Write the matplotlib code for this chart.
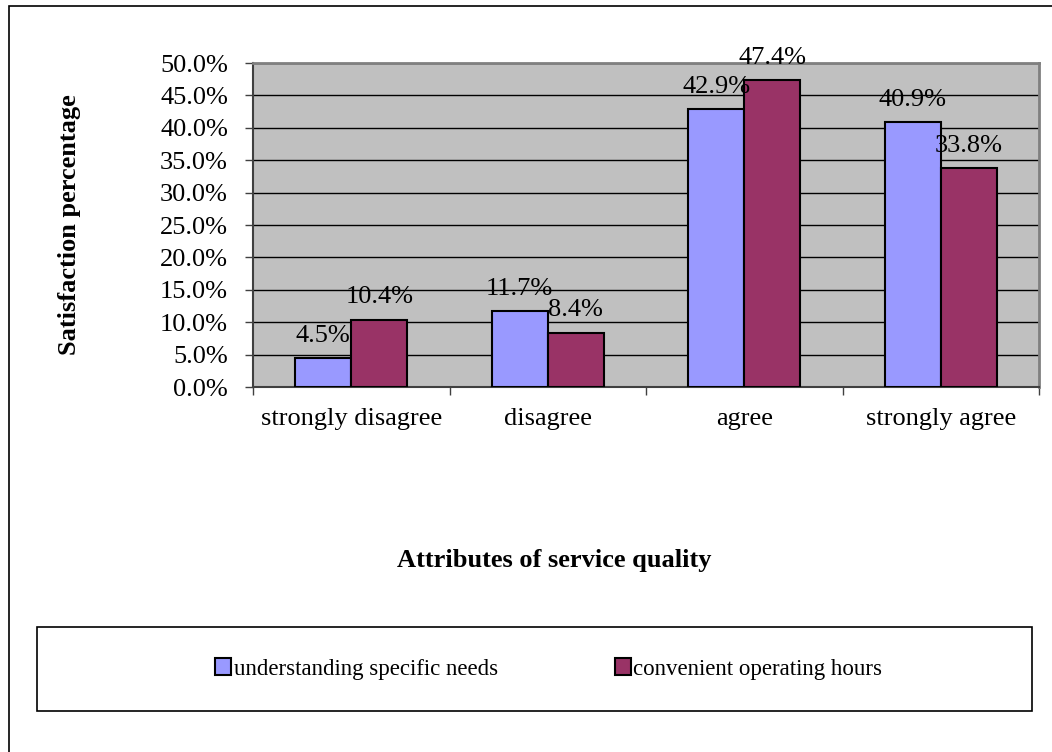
import numpy as np
import matplotlib.pyplot as plt
from matplotlib.patches import Rectangle

plt.rcParams['font.family'] = ['Liberation Serif', 'DejaVu Serif']

categories = ["strongly disagree", "disagree", "agree", "strongly agree"]
needs = [4.5, 11.7, 42.9, 40.9]
hours = [10.4, 8.4, 47.4, 33.8]
series_names = ["understanding specific needs", "convenient operating hours"]
yticks = np.arange(0, 50.1, 5)

fig = plt.figure(figsize=(10.52, 7.52), dpi=100)

# outer chart frame
fig.add_artist(Rectangle((9/1052, -0.01), 1.02, 1 - 6/752 + 0.01, transform=fig.transFigure,
                         fill=False, edgecolor='black', linewidth=1.2))

ax = fig.add_axes([253/1052, 1 - 387/752, (1039 - 253)/1052, (387 - 63)/752])
ax.set_facecolor('#C0C0C0')

x = np.arange(len(categories))
w = 0.285
b1 = ax.bar(x - w/2, needs, w, color='#9999FF', edgecolor='black', linewidth=1.5,
            label=series_names[0], zorder=3)
b2 = ax.bar(x + w/2, hours, w, color='#993366', edgecolor='black', linewidth=1.5,
            label=series_names[1], zorder=3)

for bars, vals in ((b1, needs), (b2, hours)):
    for r, v in zip(bars, vals):
        ax.annotate(f"{v:.1f}%", (r.get_x() + r.get_width()/2, v), xytext=(0, 8),
                    textcoords='offset points', ha='center', va='bottom',
                    fontsize=19, zorder=4, annotation_clip=False)

ax.set_xlim(-0.5, len(categories) - 0.5)
ax.set_ylim(0, 50)
ax.set_yticks(yticks)
ax.set_yticklabels([f"{t:.1f}%" for t in yticks], fontsize=19)
ax.yaxis.grid(True, color='black', linewidth=1)
ax.set_axisbelow(True)

ax.set_xticks(x)
ax.set_xticklabels(categories, fontsize=19)
ax.tick_params(axis='x', length=0, pad=15)
ax.set_xticks(np.arange(-0.5, len(categories)), minor=True)
ax.tick_params(axis='x', which='minor', length=6, width=1, color='#404040')
ax.tick_params(axis='y', length=6, width=1, color='#404040', pad=12)

for s in ('top', 'right'):
    ax.spines[s].set_color('#808080')
    ax.spines[s].set_linewidth(2)
for s in ('left', 'bottom'):
    ax.spines[s].set_color('#404040')
    ax.spines[s].set_linewidth(1.5)

ax.set_ylabel("Satisfaction percentage", fontsize=19, fontweight='bold')
ax.yaxis.set_label_coords((81 - 253)/786, 0.5)
fig.text(554/1052, 1 - 561/752, "Attributes of service quality", ha='center', va='center',
         fontsize=19, fontweight='bold')

leg = fig.legend(handles=[b1, b2], loc='center',
                 bbox_to_anchor=(51/1052, 1 - 711/752, (1032 - 37)/1052, (711 - 627)/752),
                 ncol=2, fontsize=16.5, frameon=True, fancybox=False,
                 handlelength=0.7, handleheight=0.7, handletextpad=0.1, columnspacing=5.1,
                 borderaxespad=0)
leg.get_frame().set_visible(False)
fig.add_artist(Rectangle((37/1052, 1 - 711/752), (1032 - 37)/1052, (711 - 627)/752,
                         transform=fig.transFigure, fill=False, edgecolor='black', linewidth=1.2))

fig.savefig("out.png", dpi=100)
